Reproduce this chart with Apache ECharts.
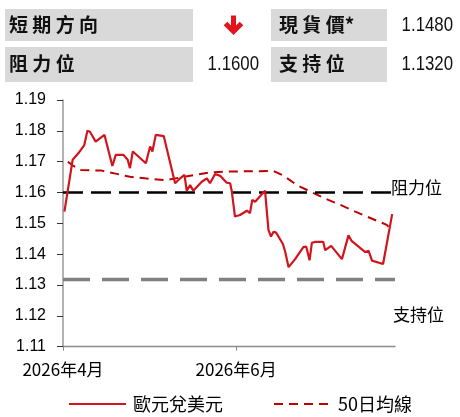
<!DOCTYPE html>
<html>
<head>
<meta charset="utf-8">
<script src="https://cdn.jsdelivr.net/npm/echarts@6/dist/echarts.min.js"></script>
<style>html,body{margin:0;padding:0;background:#fff}#c{width:460px;height:417px}</style>
</head>
<body>
<div id="c"></div>
<script>
// day offsets from 2026-04-01 and values
var priceDays = [0.5,3.4,5.4,7.5,8.6,9.5,11.5,14.6,17.4,18.6,21.3,22.8,23.6,24.6,29.2,30.7,31.5,32.7,35.5,39.5,41.3,42.8,43.6,44.8,45.9,48.9,50.7,51.8,53.6,55.4,57.7,58.9,59.5,60.6,62.4,64.8,65.9,66.7,67.7,71.2,72.4,73.3,74.2,75.1,77.5,78.3,79.5,81.8,84.7,85.7,86.9,87.7,88.9,91.7,92.4,94.5,98.3,100.6,101.7,106.5,107.7,108.9,112.8,116.0];
var priceVals = [1.1538,1.1706,1.1727,1.1754,1.1800,1.1797,1.1765,1.1787,1.1686,1.1722,1.1722,1.1706,1.1679,1.1733,1.1695,1.1749,1.1733,1.1787,1.1783,1.1630,1.1646,1.1657,1.1606,1.1624,1.1606,1.1635,1.1646,1.1630,1.1660,1.1654,1.1632,1.1630,1.1603,1.1522,1.1527,1.1541,1.1533,1.1576,1.1570,1.1606,1.1479,1.1457,1.1473,1.1470,1.1433,1.1408,1.1358,1.1384,1.1423,1.1425,1.1380,1.1437,1.1440,1.1440,1.1413,1.1427,1.1384,1.1461,1.1443,1.1407,1.1411,1.1379,1.1368,1.1530];
var maDays = [1.7,3.4,6.3,13.6,18.1,23.6,28.9,36.0,42.8,51.5,58.9,74.2,77.7,82.4,88.3,93.5,97.7,103.0,107.1,114.1,114.7];
var maVals = [1.1700,1.1688,1.1673,1.1671,1.1662,1.1651,1.1646,1.1640,1.1651,1.1665,1.1668,1.1670,1.1655,1.1624,1.1598,1.1576,1.1560,1.1538,1.1522,1.1495,1.1489];
var xTickDays = [0, 61];
var xTickLabels = ['2026年4月', '2026年6月'];
var resistance = 1.16, support = 1.132;
var seriesNames = ['歐元兌美元', '50日均線'];
var headerLabels = ['短 期 方 向', '現 貨 價*', '阻 力 位', '支 持 位'];
var headerValues = ['1.1480', '1.1600', '1.1320'];

var NUM = '"Liberation Sans",Arial,sans-serif';
var CJK = '"Noto Sans CJK TC","Noto Sans",sans-serif';

function pairs(xs, ys){ return xs.map(function(x,i){ return [x, ys[i]]; }); }

var chart = echarts.init(document.getElementById('c'));
var option = {
  animation: false,
  backgroundColor: '#fff',
  grid: { left: 63, right: 65, top: 100, bottom: 70.3, containLabel: false },
  xAxis: {
    type: 'value', min: 0, max: 117,
    axisLine: { show: true, lineStyle: { color: '#8c8c8c', width: 1.3 } },
    axisTick: { show: true, length: 4, customValues: xTickDays, lineStyle: { color: '#8c8c8c' } },
    axisLabel: { customValues: xTickDays, margin: 14, color: '#000', fontSize: 17, fontFamily: CJK,
      formatter: function(v){ var i = xTickDays.indexOf(v); return i >= 0 ? xTickLabels[i] : ''; } },
    splitLine: { show: false }
  },
  yAxis: {
    type: 'value', min: 1.11, max: 1.19, interval: 0.01,
    axisLine: { show: true, lineStyle: { color: '#a0a0a0', width: 1.6 } },
    axisTick: { show: true, length: 6, lineStyle: { color: '#333' } },
    axisLabel: { margin: 17, color: '#000', fontSize: 16, fontFamily: NUM,
      formatter: function(v){ return v.toFixed(2); } },
    splitLine: { show: false }
  },
  legend: {
    left: 63, top: 390, itemWidth: 57, itemHeight: 14, itemGap: 50,
    itemStyle: { opacity: 0 },
    textStyle: { fontSize: 18, fontFamily: CJK, color: '#000', padding: [0,0,0,2] },
    data: seriesNames
  },
  series: [
    {
      name: seriesNames[0], type: 'line', data: pairs(priceDays, priceVals),
      showSymbol: false, symbol: 'none', z: 5,
      lineStyle: { color: '#d2141c', width: 2.2 }, itemStyle: { color: '#d2141c' },
      markLine: {
        silent: true, symbol: 'none', animation: false, precision: 4,
        data: [
          { yAxis: resistance, lineStyle: { color: '#000', width: 2.7, type: [20, 8] },
            label: { show: true, position: 'end', formatter: '阻力位', color: '#000', fontSize: 17, fontFamily: CJK, distance: 0, offset: [-4, -5] } },
          { yAxis: support, lineStyle: { color: '#808080', width: 3.4, type: [27, 12] },
            label: { show: true, position: 'end', formatter: '支持位', color: '#000', fontSize: 17, fontFamily: CJK, distance: 0, offset: [-2, 36] } }
        ]
      }
    },
    {
      name: seriesNames[1], type: 'line', data: pairs(maDays, maVals),
      showSymbol: false, symbol: 'none', z: 4,
      lineStyle: { color: '#c00000', width: 2, type: [9, 6] }, itemStyle: { color: '#c00000' }
    }
  ],
  graphic: [
    { type: 'rect', shape: { x: 5, y: 9, width: 188, height: 32 }, style: { fill: '#d9d9d9' } },
    { type: 'rect', shape: { x: 271, y: 9, width: 116, height: 32 }, style: { fill: '#d9d9d9' } },
    { type: 'rect', shape: { x: 5, y: 47, width: 188, height: 35 }, style: { fill: '#d9d9d9' } },
    { type: 'rect', shape: { x: 271, y: 47, width: 116, height: 35 }, style: { fill: '#d9d9d9' } },
    { type: 'text', x: 9, y: 25, style: { text: headerLabels[0], font: 'bold 19px ' + CJK, fill: '#111', verticalAlign: 'middle' } },
    { type: 'text', x: 279, y: 25, style: { text: headerLabels[1], font: 'bold 19px ' + CJK, fill: '#111', verticalAlign: 'middle' } },
    { type: 'text', x: 9, y: 64, style: { text: headerLabels[2], font: 'bold 19px ' + CJK, fill: '#111', verticalAlign: 'middle' } },
    { type: 'text', x: 279, y: 64, style: { text: headerLabels[3], font: 'bold 19px ' + CJK, fill: '#111', verticalAlign: 'middle' } },
    { type: 'text', x: 453, y: 25, scaleX: 0.84, style: { text: headerValues[0], font: '20px ' + NUM, fill: '#111', align: 'right', verticalAlign: 'middle' } },
    { type: 'text', x: 259, y: 64, scaleX: 0.84, style: { text: headerValues[1], font: '20px ' + NUM, fill: '#111', align: 'right', verticalAlign: 'middle' } },
    { type: 'text', x: 453, y: 64, scaleX: 0.84, style: { text: headerValues[2], font: '20px ' + NUM, fill: '#111', align: 'right', verticalAlign: 'middle' } },
    { type: 'line', shape: { x1: 233.5, y1: 15.5, x2: 233.5, y2: 31 }, style: { stroke: '#e3141c', lineWidth: 5 } },
    { type: 'polyline', shape: { points: [[225.5, 23.5], [233.5, 31.5], [241.5, 23.5]] }, style: { stroke: '#e3141c', lineWidth: 5, fill: null, lineJoin: 'miter' } }
  ]
};
chart.setOption(option);
</script>
</body>
</html>
